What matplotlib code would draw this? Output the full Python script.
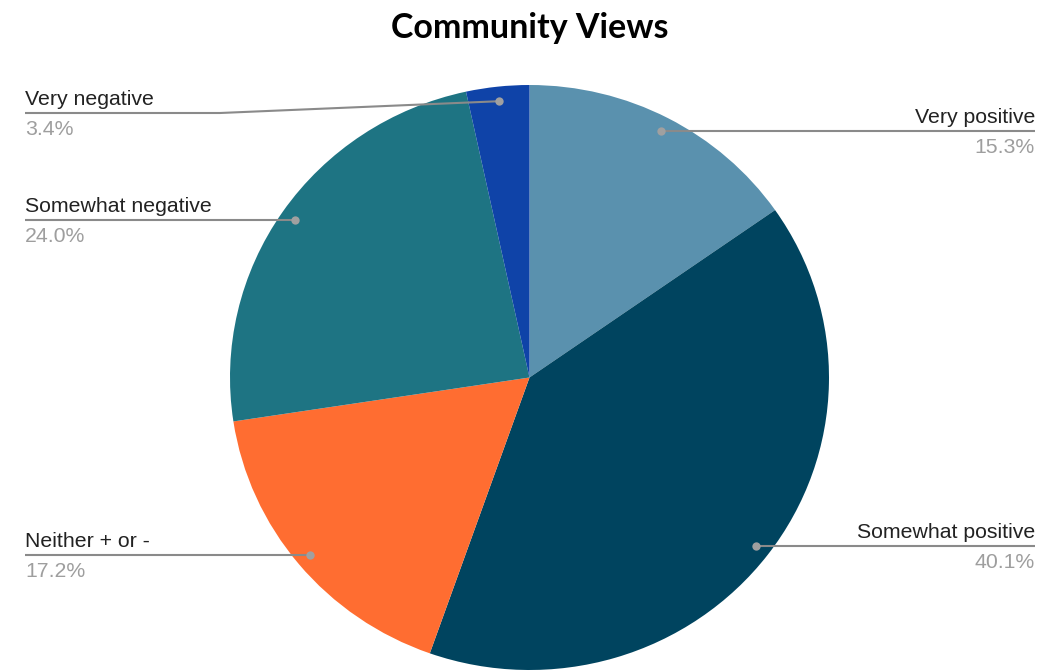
import numpy as np
import matplotlib
matplotlib.use("Agg")
import matplotlib.pyplot as plt

# Chart data
categories = ["Very positive", "Somewhat positive", "Neither + or -",
              "Somewhat negative", "Very negative"]
shares = [15.3, 40.1, 17.2, 24.0, 3.4]
colors = ["#5A91AE", "#00445F", "#FF6D31", "#1E7483", "#0F43A8"]

W, H = 1053, 671
plt.rcParams['font.family'] = ['Liberation Sans', 'DejaVu Sans']

fig = plt.figure(figsize=(W / 100, H / 100), dpi=100)

# Pie axes, slightly elliptical like the reference
ax = fig.add_axes([230 / W, 1 / H, 599 / W, 585 / H])
wedges, _ = ax.pie(shares, colors=colors, startangle=90, counterclock=False,
                   radius=1, wedgeprops=dict(linewidth=0))
ax.set_xlim(-1, 1)
ax.set_ylim(-1, 1)
ax.set_aspect('auto')
ax.axis('off')

# Overlay axes in pixel coordinates for labels and leader lines
ov = fig.add_axes([0, 0, 1, 1])
ov.set_xlim(0, W)
ov.set_ylim(H, 0)
ov.axis('off')
ov.patch.set_alpha(0)

fig.canvas.draw()

left_x, right_x = 25, 1035
line_override = {"Very negative": 113}

for w, name, val in zip(wedges, categories, shares):
    mid = np.deg2rad((w.theta1 + w.theta2) / 2)
    px, py = ax.transData.transform((0.95 * np.cos(mid), 0.95 * np.sin(mid)))
    dx, dy = px, H - py
    ly = line_override.get(name, dy)
    if np.cos(mid) < 0:
        xs = [left_x, left_x + 195, dx] if name in line_override else [left_x, dx]
        ys = [ly, ly, dy] if name in line_override else [ly, dy]
        tx, ha = left_x, 'left'
    else:
        xs, ys = [dx, right_x], [dy, ly]
        tx, ha = right_x, 'right'
    ov.plot(xs, ys, color="#8a8a8a", lw=1.5, solid_capstyle='butt')
    ov.plot([dx], [dy], 'o', color="#a0a0a0", ms=6, mec='none')
    ov.text(tx, ly - 8, name, ha=ha, va='baseline', fontsize=15.3, color="#222222")
    ov.text(tx, ly + 22, f"{val:.1f}%", ha=ha, va='baseline', fontsize=15.3,
            color="#9e9e9e")

ov.text(530, 28, "Community Views", ha='center', va='center', fontsize=24.5,
        fontweight='bold', family=['Lato', 'DejaVu Sans'], color="#000000")

fig.savefig("out.png", dpi=100)
